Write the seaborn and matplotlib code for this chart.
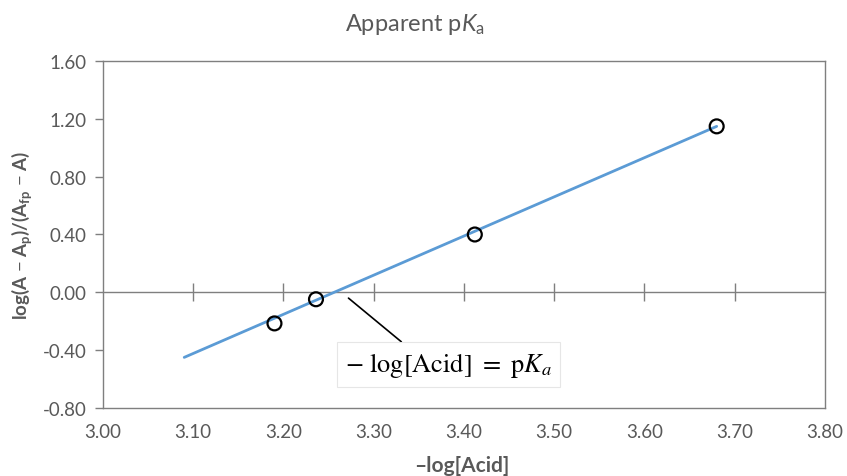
import numpy as np
import pandas as pd
import matplotlib
matplotlib.use("Agg")
import matplotlib.pyplot as plt
import seaborn as sns

# точки измерений
neg_log_acid = [3.19, 3.236, 3.412, 3.68]
log_ratio = [-0.215, -0.048, 0.40, 1.148]

# линия тренда (концы)
trend_x = [3.09, 3.68]
trend_y = [-0.45, 1.148]

x_ticks = [3.00, 3.10, 3.20, 3.30, 3.40, 3.50, 3.60, 3.70, 3.80]
y_ticks = [-0.80, -0.40, 0.00, 0.40, 0.80, 1.20, 1.60]

sns.set_theme(style="white")
plt.rcParams['font.family'] = ['Lato', 'DejaVu Sans']
plt.rcParams['mathtext.fontset'] = 'custom'
plt.rcParams['mathtext.rm'] = 'Lato'
plt.rcParams['mathtext.it'] = 'Lato:italic'
plt.rcParams['mathtext.bf'] = 'Lato:bold'

grey_txt = '#595959'
frame = '#7f7f7f'

fig = plt.figure(figsize=(8.47, 4.77), dpi=100)
ax = fig.add_axes([0.1216, 0.1426, 0.8524, 0.7274])

pts = pd.DataFrame({'x': neg_log_acid, 'y': log_ratio})
fit = pd.DataFrame({'x': trend_x, 'y': trend_y})

sns.lineplot(data=fit, x='x', y='y', color='#5B9BD5', linewidth=2, ax=ax, zorder=2)
sns.scatterplot(data=pts, x='x', y='y', s=100, facecolor='none', edgecolor='black',
                linewidth=1.6, ax=ax, zorder=3)

ax.set_xlim(3.0, 3.8)
ax.set_ylim(-0.8, 1.6)
ax.set_xticks(x_ticks)
ax.set_yticks(y_ticks)
ax.set_xticklabels([f'{v:.2f}' for v in x_ticks])
ax.set_yticklabels([f'{v:.2f}' for v in y_ticks])
ax.tick_params(axis='x', length=0, pad=11, labelsize=13.5, colors=grey_txt)
ax.tick_params(axis='y', direction='out', length=6, width=1, color=frame,
               pad=6, labelsize=13.5, labelcolor=grey_txt, left=True)
for sp in ax.spines.values():
    sp.set_color(frame)
    sp.set_linewidth(1)
ax.set_xlabel('')
ax.set_ylabel('')

# горизонтальная ось на уровне нуля с засечками
zero_ax = ax.secondary_xaxis(0.8 / 2.4)
zero_ax.set_xticks(x_ticks[1:-1])
zero_ax.tick_params(direction='inout', length=13, width=1, color=frame, labelbottom=False)
zero_ax.spines['bottom'].set_color(frame)
zero_ax.spines['bottom'].set_linewidth(1)

ax.annotate(r'$-\ \log[\mathrm{Acid}]\ =\ \mathrm{p}K_a$',
            xy=(3.272, -0.04), xytext=(3.383, -0.50),
            ha='center', va='center', fontsize=19, color='black',
            math_fontfamily='stix',
            bbox=dict(boxstyle='square,pad=0.3', fc='white', ec='#e6e6e6', lw=0.8),
            arrowprops=dict(arrowstyle='-', color='black', lw=1.2, shrinkA=0, shrinkB=0,
                            relpos=(0.32, 1.0)))

fig.text(0.49, 0.948, r'Apparent p$K_\mathrm{a}$', ha='center', va='center',
         fontsize=17, color=grey_txt)
fig.text(0.5455, 1 - 456 / 477, '\u2013log[Acid]', ha='center', va='top',
         fontsize=15, fontweight='bold', color=grey_txt)
fig.text(0.026, 1 - 235 / 477,
         r'log(A $-$ A$_\mathbf{p}$)/(A$_\mathbf{fp}$ $-$ A)',
         ha='center', va='center', rotation=90, fontsize=13.5,
         fontweight='bold', color=grey_txt)

fig.savefig('out.png', dpi=100)
